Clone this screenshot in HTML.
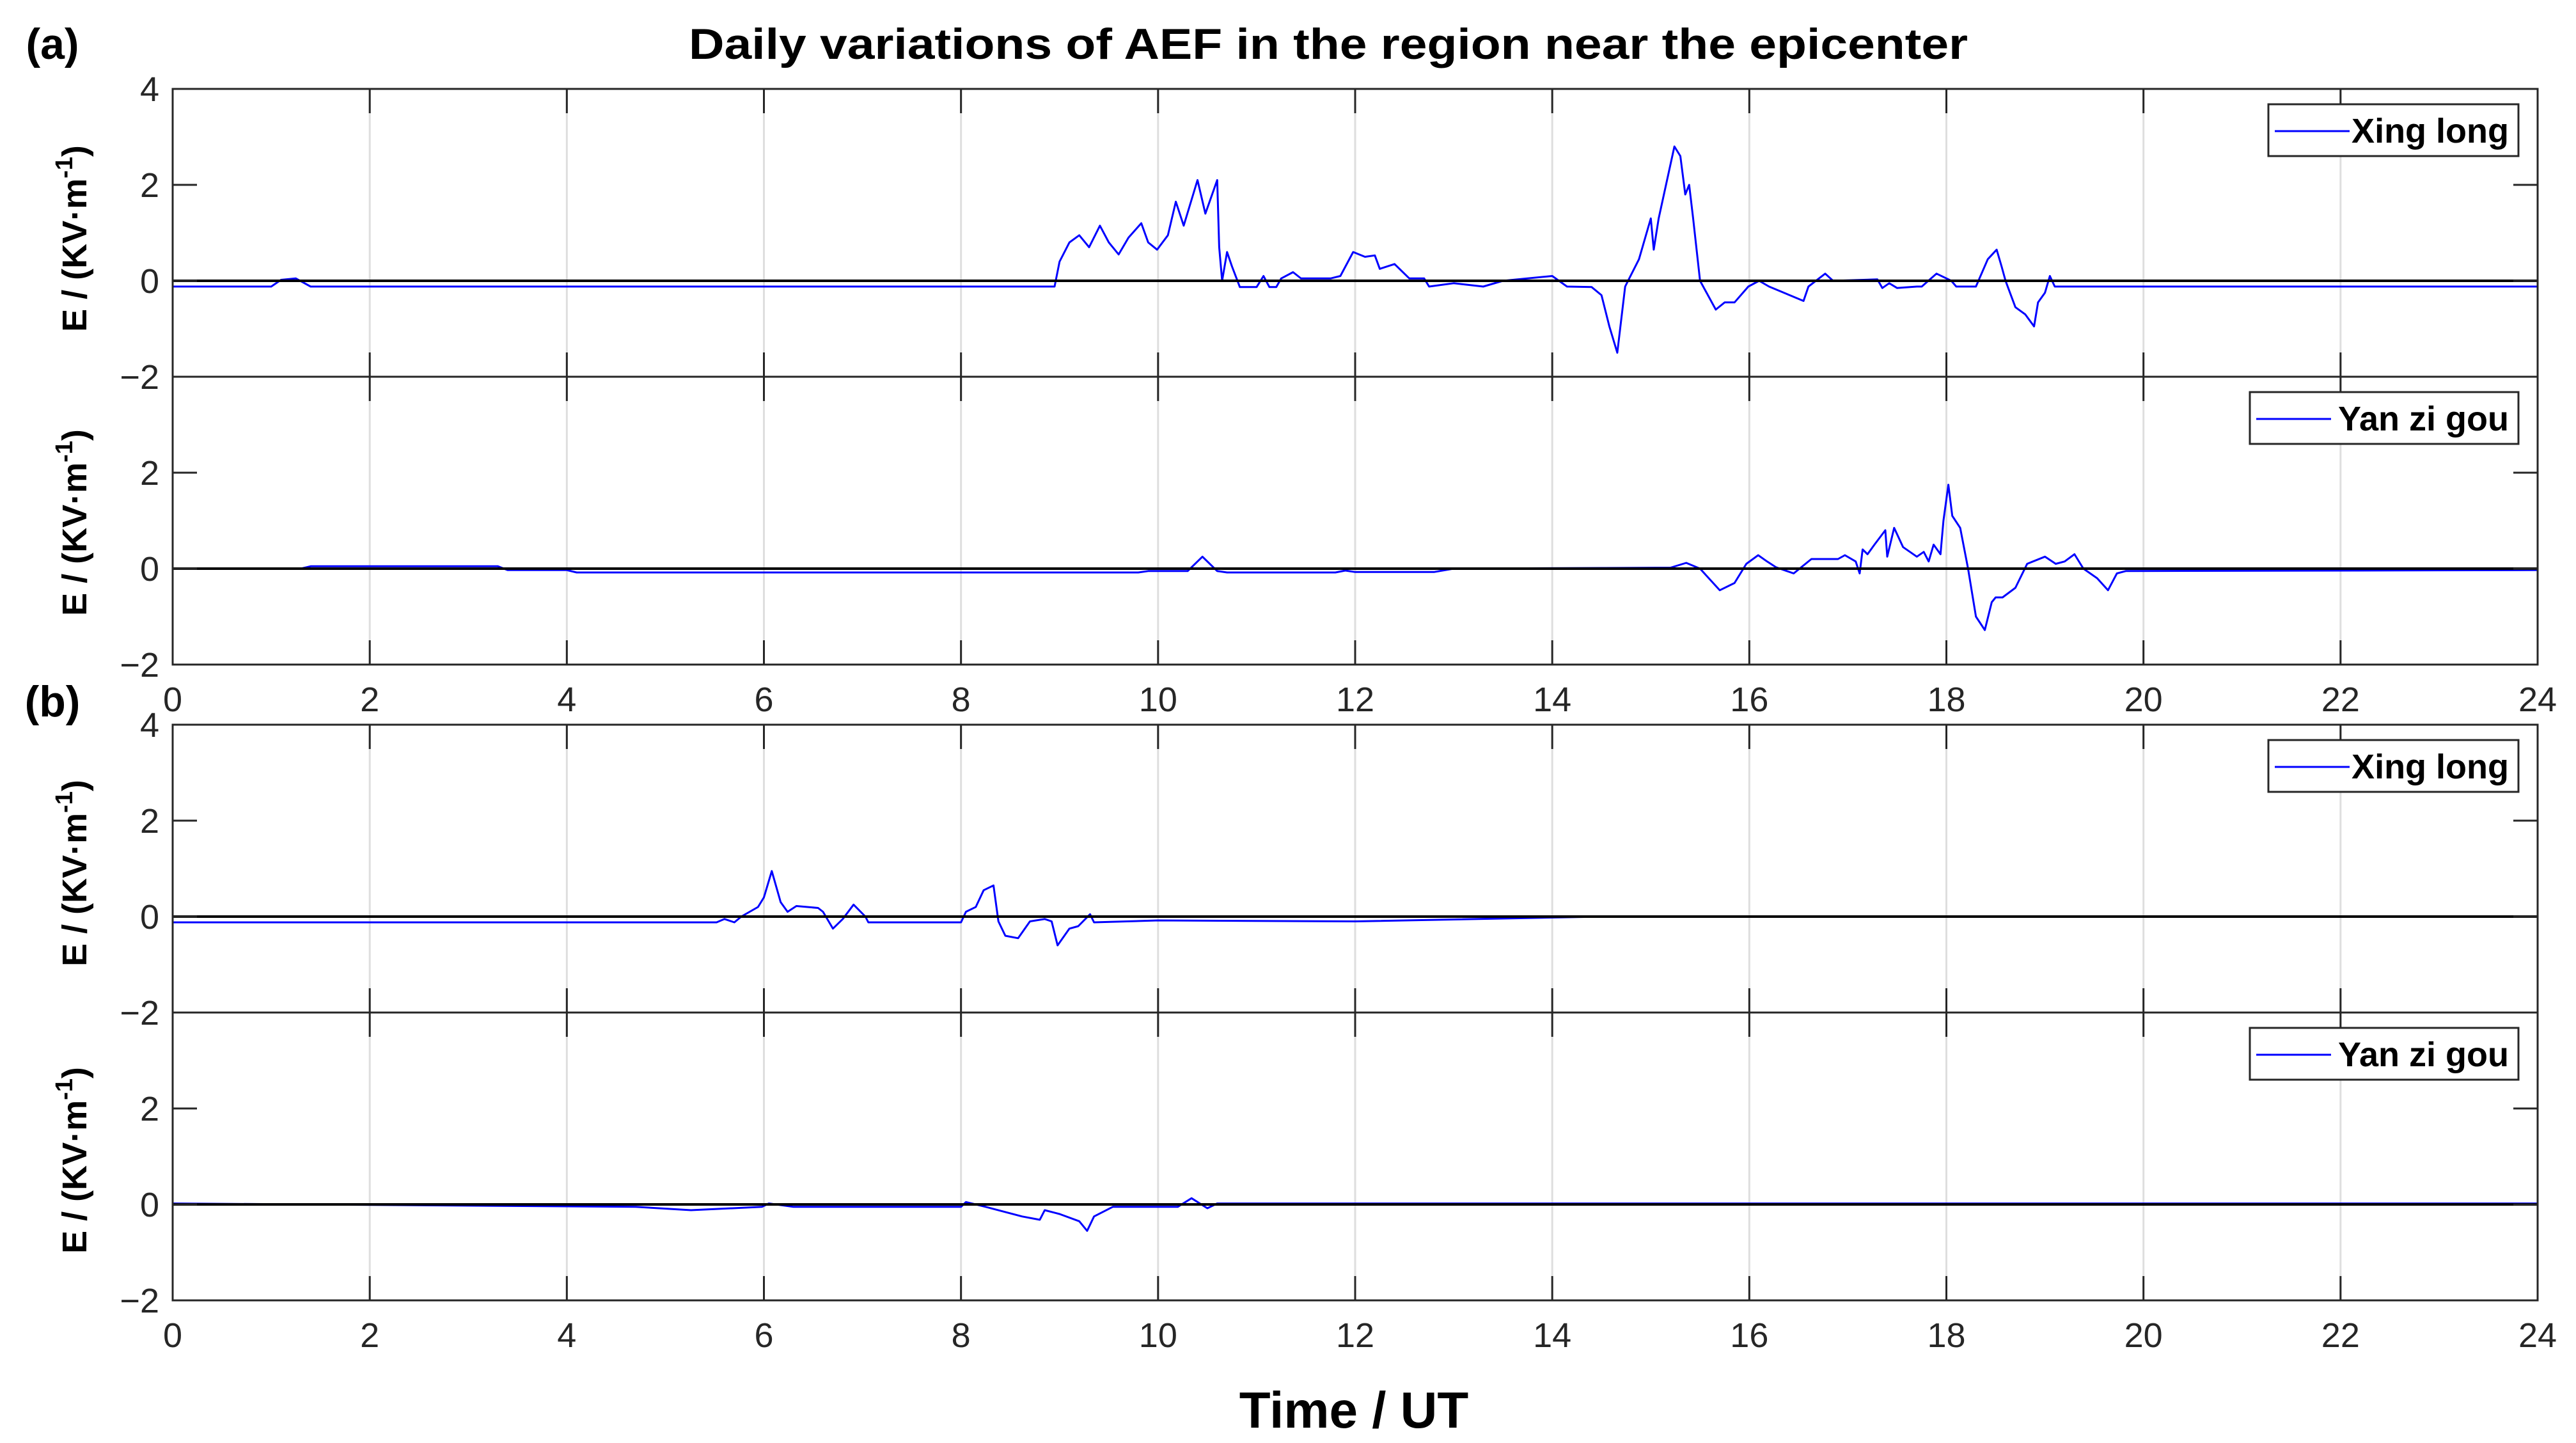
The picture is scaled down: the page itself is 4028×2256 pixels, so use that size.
<!DOCTYPE html>
<html><head><meta charset="utf-8">
<style>
html,body{margin:0;padding:0;background:#fff;}
svg{display:block;font-family:"Liberation Sans",Arial,sans-serif;}
</style></head>
<body>
<svg id="fig" width="4028" height="2256" viewBox="0 0 4028 2256" xmlns="http://www.w3.org/2000/svg">
<rect x="0" y="0" width="4028" height="2256" fill="#fff"/>
<text x="2077" y="92" text-anchor="middle" font-size="68" font-weight="bold" fill="#000" textLength="2000" lengthAdjust="spacingAndGlyphs">Daily variations of AEF in the region near the epicenter</text>
<text x="82" y="92" text-anchor="middle" font-size="68" font-weight="bold" fill="#000">(a)</text>
<text x="82" y="1120" text-anchor="middle" font-size="68" font-weight="bold" fill="#000">(b)</text>
<text x="2117" y="2232" text-anchor="middle" font-size="80" font-weight="bold" fill="#000">Time / UT</text>
<g id="plots"></g>
</svg>
<script>
// ---- data ----
const xTicks = [0,2,4,6,8,10,12,14,16,18,20,22,24];
const yTicks = [-2,0,2,4];
const xlA_t = [0,1.0,1.1,1.25,1.4,8.95,9.0,9.1,9.2,9.3,
  9.41,9.5,9.6,9.7,9.83,9.9,9.99,10.1,10.18,10.26,
  10.4,10.48,10.6,10.62,10.65,10.7,10.75,10.83,11.0,11.07,
  11.13,11.2,11.25,11.37,11.45,11.75,11.85,11.98,12.1,12.2,
  12.25,12.4,12.55,12.7,12.75,13.0,13.3,13.5,14.0,14.15,
  14.4,14.5,14.58,14.66,14.74,14.88,15.0,15.03,15.08,15.24,
  15.3,15.35,15.39,15.43,15.5,15.66,15.75,15.85,15.99,16.1,
  16.2,16.55,16.6,16.77,16.85,17.3,17.35,17.42,17.5,17.7,
  17.75,17.9,18.05,18.1,18.3,18.42,18.51,18.56,18.6,18.7,
  18.8,18.89,18.93,19.0,19.05,19.1,19.2,24];
const xlA_v = [-0.12,-0.12,0.02,0.05,-0.12,-0.12,0.4,0.8,0.95,0.7,
  1.15,0.8,0.55,0.9,1.2,0.8,0.65,0.95,1.65,1.15,
  2.1,1.4,2.1,0.7,0.0,0.6,0.3,-0.13,-0.13,0.1,
  -0.13,-0.13,0.05,0.18,0.05,0.05,0.1,0.6,0.5,0.53,
  0.25,0.35,0.05,0.05,-0.12,-0.05,-0.12,0.0,0.1,-0.12,
  -0.13,-0.3,-0.95,-1.5,-0.12,0.45,1.3,0.65,1.3,2.8,
  2.6,1.8,2.0,1.3,0.0,-0.6,-0.45,-0.45,-0.12,0.0,
  -0.12,-0.42,-0.12,0.15,0.0,0.03,-0.15,-0.05,-0.15,-0.12,
  -0.12,0.15,0.0,-0.12,-0.12,0.45,0.65,0.3,0.0,-0.55,
  -0.7,-0.95,-0.45,-0.25,0.1,-0.12,-0.12,-0.12];
const yzA_t = [0,1.3,1.4,3.3,3.4,4.0,4.1,9.8,9.9,10.3,
  10.45,10.6,10.7,11.8,11.9,12.0,12.8,13.0,15.2,15.36,
  15.5,15.7,15.85,15.97,16.09,16.18,16.27,16.45,16.63,16.9,
  16.97,17.08,17.12,17.15,17.2,17.27,17.38,17.4,17.47,17.56,
  17.7,17.77,17.82,17.87,17.94,17.97,18.02,18.06,18.14,18.22,
  18.3,18.39,18.46,18.5,18.57,18.7,18.82,19.0,19.11,19.2,
  19.3,19.39,19.53,19.64,19.73,19.82,24];
const yzA_v = [0,0,0.05,0.05,-0.03,-0.03,-0.08,-0.08,-0.05,-0.05,
  0.25,-0.05,-0.08,-0.08,-0.04,-0.07,-0.07,0,0.02,0.12,
  0,-0.45,-0.3,0.1,0.28,0.15,0.03,-0.1,0.2,0.2,
  0.28,0.15,-0.1,0.4,0.3,0.5,0.8,0.25,0.85,0.45,
  0.25,0.35,0.15,0.5,0.3,1.0,1.75,1.1,0.85,0,
  -1.0,-1.28,-0.7,-0.6,-0.6,-0.4,0.1,0.25,0.1,0.15,
  0.3,0.0,-0.2,-0.45,-0.1,-0.05,-0.03];
const xlB_t = [0,5.52,5.6,5.7,5.77,5.94,6.0,6.08,6.17,6.24,
  6.33,6.55,6.6,6.7,6.8,6.91,7.03,7.06,8.0,8.05,
  8.15,8.23,8.33,8.38,8.45,8.58,8.7,8.85,8.92,8.98,
  9.1,9.19,9.31,9.35,10.0,12,14.5,24];
const xlB_v = [-0.12,-0.12,-0.05,-0.12,0.0,0.2,0.4,0.95,0.3,0.1,
  0.22,0.18,0.1,-0.25,-0.05,0.25,0.0,-0.12,-0.12,0.1,
  0.2,0.55,0.65,-0.1,-0.4,-0.45,-0.1,-0.05,-0.1,-0.6,
  -0.25,-0.2,0.05,-0.12,-0.08,-0.1,0.0,0.0];
const yzB_t = [0,4.7,5.26,5.98,6.05,6.3,8.0,8.05,8.25,8.62,
  8.8,8.85,9.0,9.2,9.28,9.35,9.54,10.2,10.34,10.5,
  10.6,24];
const yzB_v = [0.02,-0.05,-0.12,-0.05,0.02,-0.05,-0.05,0.05,-0.05,-0.25,
  -0.32,-0.12,-0.2,-0.35,-0.55,-0.25,-0.05,-0.05,0.13,-0.08,
  0.02,0.02];

// ---- layout ----
const L = 270, R = 3968, H = 450;
const NS = 'http://www.w3.org/2000/svg';
const root = document.getElementById('plots');
function xS(h){ return L + h*(R-L)/24; }
function yS(v, top){ return top + (4 - v)*H/6; }
function mk(tag, attrs, parent){
  const e = document.createElementNS(NS, tag);
  for (const k in attrs) e.setAttribute(k, attrs[k]);
  (parent||root).appendChild(e);
  return e;
}

const panels = [
  {top:139, t:xlA_t, v:xlA_v, name:'xing-long-a', legend:'Xing long', lx:3547, lw:391, top4:true, xlab:false, ylc:373},
  {top:589, t:yzA_t, v:yzA_v, name:'yan-zi-gou-a', legend:'Yan zi gou', lx:3518, lw:420, top4:false, xlab:true, ylc:817},
  {top:1133, t:xlB_t, v:xlB_v, name:'xing-long-b', legend:'Xing long', lx:3547, lw:391, top4:true, xlab:false, ylc:1365},
  {top:1583, t:yzB_t, v:yzB_v, name:'yan-zi-gou-b', legend:'Yan zi gou', lx:3518, lw:420, top4:false, xlab:true, ylc:1814}
];

panels.forEach(p => {
  const g = mk('g', {});
  
  
  const top = p.top, bot = top + H;
  // grid
  xTicks.forEach(h => {
    if (h === 0 || h === 24) return;
    const gl = mk('line', {x1:xS(h), x2:xS(h), y1:top, y2:bot, stroke:'#dedede', 'stroke-width':3}, g);
    
    
  });
  // series
  let d = '';
  for (let i = 0; i < p.t.length; i++) {
    d += (i ? 'L' : 'M') + xS(p.t[i]).toFixed(1) + ' ' + yS(p.v[i], top).toFixed(1);
  }
  const path = mk('path', {d:d, fill:'none', stroke:'#0000ff', 'stroke-width':3, 'stroke-linejoin':'round'}, g);
  
  
  // zero line
  const zl = mk('line', {x1:L, x2:R, y1:yS(0, top), y2:yS(0, top), stroke:'#000', 'stroke-width':4}, g);
  
  
  // box
  const bx = mk('rect', {x:L, y:top, width:R-L, height:H, fill:'none', stroke:'#262626', 'stroke-width':3}, g);
  
  
  // x ticks
  xTicks.forEach(h => {
    if (h === 0 || h === 24) return;
    const t1 = mk('line', {x1:xS(h), x2:xS(h), y1:top, y2:top+38, stroke:'#262626', 'stroke-width':3}, g);
    
    
    const t2 = mk('line', {x1:xS(h), x2:xS(h), y1:bot, y2:bot-38, stroke:'#262626', 'stroke-width':3}, g);
    
    
  });
  // y ticks + labels
  yTicks.forEach(v => {
    const y = yS(v, top);
    if (v > -2 && v < 4) {
      const a = mk('line', {x1:L, x2:L+38, y1:y, y2:y, stroke:'#262626', 'stroke-width':3}, g);
      
      
      const b = mk('line', {x1:R, x2:R-38, y1:y, y2:y, stroke:'#262626', 'stroke-width':3}, g);
      
      
    }
    if (v === 4 && !p.top4) return;
    const tl = mk('text', {x:249, y:y+19, 'text-anchor':'end', 'font-size':54, fill:'#262626'}, g);
    tl.textContent = v < 0 ? '\u2212' + Math.abs(v) : String(v);
    
    
  });
  // x tick labels
  if (p.xlab) {
    xTicks.forEach(h => {
      const xl = mk('text', {x:xS(h), y:bot+73, 'text-anchor':'middle', 'font-size':54, fill:'#262626'}, g);
      xl.textContent = String(h);
      
      
    });
  }
  // y-axis title
  const yt = mk('text', {x:0, y:0, 'text-anchor':'middle', 'font-size':54, 'font-weight':'bold', fill:'#000',
    transform:'translate(135,' + p.ylc + ') rotate(-90)'}, g);
  
  
  yt.appendChild(document.createTextNode('E / (KV\u00b7m'));
  const sup = document.createElementNS(NS, 'tspan');
  sup.setAttribute('dy', '-22');
  sup.setAttribute('font-size', '38');
  sup.textContent = '-1';
  yt.appendChild(sup);
  const cl = document.createElementNS(NS, 'tspan');
  cl.setAttribute('dy', '22');
  cl.textContent = ')';
  yt.appendChild(cl);
  // legend
  const lg = mk('g', {}, g);
  
  
  const ly = top + 24;
  const lr = mk('rect', {x:p.lx, y:ly, width:p.lw, height:81, fill:'#fff', stroke:'#262626', 'stroke-width':3}, lg);
  
  
  const ll = mk('line', {x1:p.lx+10, x2:p.lx+127, y1:ly+42, y2:ly+42, stroke:'#0000ff', 'stroke-width':3}, lg);
  
  
  const lt = mk('text', {x:p.lx+p.lw-15, y:ly+60, 'text-anchor':'end', 'font-size':54, 'font-weight':'bold', fill:'#000'}, lg);
  lt.textContent = p.legend;
  
  
});
</script>
</body></html>
